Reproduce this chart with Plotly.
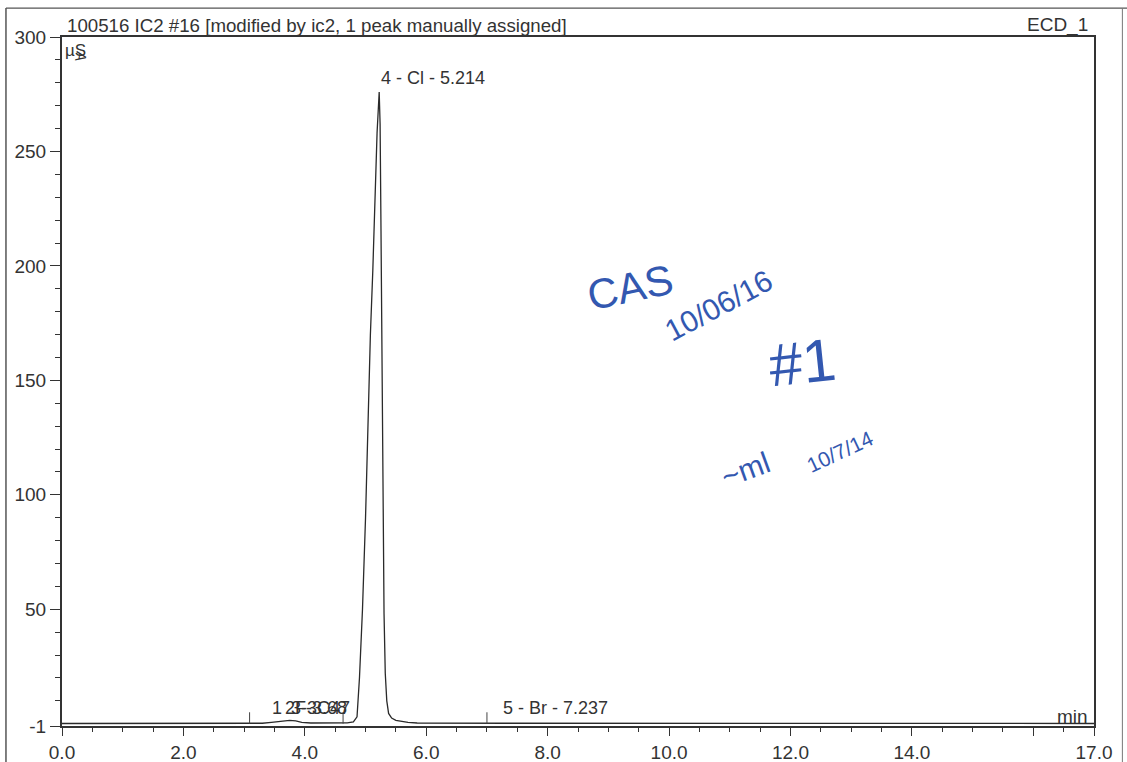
import plotly.graph_objects as go

# ---- data ----
time_min = [0.0, 3.0, 3.3, 3.45, 3.55, 3.65, 3.75, 3.85, 3.95, 4.1, 4.5, 4.7, 4.80,
            4.86, 4.90, 4.95, 5.00, 5.04, 5.08, 5.12, 5.16, 5.19, 5.225, 5.24, 5.255,
            5.265, 5.275, 5.29, 5.305, 5.325, 5.35, 5.38, 5.43, 5.5, 5.6, 5.7, 5.85,
            6.5, 7.15, 7.24, 7.35, 12.0, 17.0]
signal_us = [0.1, 0.1, 0.2, 0.6, 0.9, 1.3, 1.5, 1.2, 0.6, 0.3, 0.3, 0.4, 0.8,
             3.0, 20.0, 50.0, 90.0, 135.0, 170.0, 198.0, 232.0, 258.0, 276.0, 262.0, 215.0,
             175.0, 135.0, 85.0, 48.0, 22.0, 10.0, 4.5, 2.5, 1.5, 1.0, 0.6, 0.3,
             0.2, 0.2, 0.35, 0.2, 0.15, 0.1]

peak_labels = ["1", "2F-3.68", "3-3C47", "4 - Cl - 5.214", "5 - Br - 7.237"]
peak_label_x = [3.42, 3.64, 3.74, 5.214, 7.237]
peak_label_y = [1.5, 1.5, 1.5, 277.0, 1.5]

baseline_mark_x = [3.09, 4.63, 7.0]
baseline_mark_h = [5.0, 5.0, 5.0]

y_major = [-1, 50, 100, 150, 200, 250, 300]
y_major_text = ["-1", "50", "100", "150", "200", "250", "300"]
y_minor = [v for v in range(10, 300, 10) if v % 50 != 0]
x_major = [0, 2, 4, 6, 8, 10, 12, 14, 16, 17]
x_major_text = ["0.0", "2.0", "4.0", "6.0", "8.0", "10.0", "12.0", "14.0", "", "17.0"]
x_minor = [i * 0.5 for i in range(0, 35) if (i * 0.5) not in x_major]

title_text = "100516 IC2 #16 [modified by ic2, 1 peak manually assigned]"
channel_text = "ECD_1"

FONT = "Liberation Sans, Arial, sans-serif"
INK = "#333333"
PEN = "#3358b0"

fig = go.Figure()
fig.add_trace(go.Scatter(x=time_min, y=signal_us, mode="lines",
                         line=dict(color="#2a2a2a", width=1.3), hoverinfo="skip",
                         showlegend=False))
# baseline markers
for mx, mh in zip(baseline_mark_x, baseline_mark_h):
    fig.add_shape(type="line", xref="x", yref="y", x0=mx, x1=mx, y0=0, y1=mh,
                  line=dict(color="#444444", width=1))

# peak labels
for txt, px, py in zip(peak_labels, peak_label_x, peak_label_y):
    fig.add_annotation(x=px, y=py, xref="x", yref="y", text=txt, showarrow=False,
                       xanchor="left", yanchor="bottom",
                       font=dict(family=FONT, size=18, color=INK))

# header texts
fig.add_annotation(x=0.003, y=1.0174, xref="paper", yref="paper", text=title_text,
                   showarrow=False, xanchor="left", yanchor="middle",
                   font=dict(family=FONT, size=18.7, color=INK))
fig.add_annotation(x=0.996, y=1.0174, xref="paper", yref="paper", text=channel_text,
                   showarrow=False, xanchor="right", yanchor="middle",
                   font=dict(family=FONT, size=19, color=INK))
fig.add_annotation(x=0.001, y=0.981, xref="paper", yref="paper", text="µS",
                   showarrow=False, xanchor="left", yanchor="middle",
                   font=dict(family=FONT, size=17, color=INK))
fig.add_annotation(x=0.019, y=0.972, xref="paper", yref="paper", text="A",
                   showarrow=False, xanchor="center", yanchor="middle", textangle=100,
                   font=dict(family=FONT, size=15, color=INK))
fig.add_annotation(x=0.996, y=0.0145, xref="paper", yref="paper", text="min",
                   showarrow=False, xanchor="right", yanchor="middle",
                   font=dict(family=FONT, size=19, color=INK))

# handwritten notes
notes = [
    ("CAS", 0.55, 0.636, -12, 42),
    ("10/06/16", 0.636, 0.611, -28, 30),
    ("#1", 0.718, 0.528, -6, 60),
    ("~ml", 0.662, 0.372, -20, 30),
    ("10/7/14", 0.754, 0.398, -25, 21),
]
for txt, nx, ny, ang, sz in notes:
    fig.add_annotation(x=nx, y=ny, xref="paper", yref="paper", text=txt,
                       showarrow=False, textangle=ang, xanchor="center", yanchor="middle",
                       font=dict(family=FONT, size=sz, color=PEN))

# outer page frame
fig.add_shape(type="line", xref="paper", yref="paper", x0=-0.0543, x1=-0.0543,
              y0=1.042, y1=-0.06, line=dict(color="#555555", width=1.5))
fig.add_shape(type="line", xref="paper", yref="paper", x0=-0.0543, x1=1.04,
              y0=1.042, y1=1.042, line=dict(color="#555555", width=1.2))
fig.add_shape(type="line", xref="paper", yref="paper", x0=1.0275, x1=1.0275,
              y0=1.042, y1=-0.06, line=dict(color="#777777", width=1))

fig.update_xaxes(range=[0, 17], tickmode="array", tickvals=x_major, ticktext=x_major_text,
                 ticks="outside", ticklen=8, tickwidth=1.3, tickcolor=INK,
                 showline=True, linecolor="#333333", linewidth=2, mirror=True,
                 showgrid=False, zeroline=False, automargin=False,
                 tickfont=dict(family=FONT, size=19, color=INK),
                 minor=dict(tickvals=x_minor, ticks="outside", ticklen=4,
                            tickcolor=INK, tickwidth=1.2, showgrid=False))
fig.update_yaxes(range=[-1, 300], tickmode="array", tickvals=y_major, ticktext=y_major_text,
                 ticks="outside", ticklen=10, tickwidth=1.3, tickcolor=INK,
                 showline=True, linecolor="#333333", linewidth=2, mirror=True,
                 showgrid=False, zeroline=False, automargin=False,
                 tickfont=dict(family=FONT, size=19, color=INK),
                 minor=dict(tickvals=y_minor, ticks="outside", ticklen=5,
                            tickcolor=INK, tickwidth=1.2, showgrid=False))

fig.update_layout(width=1127, height=762, plot_bgcolor="white", paper_bgcolor="white",
                  margin=dict(l=62, r=33, t=37, b=36, autoexpand=False), showlegend=False)

fig.write_html("out.html", config={"displayModeBar": False},
               post_script="document.body.style.margin='0';document.body.style.overflow='hidden';")
